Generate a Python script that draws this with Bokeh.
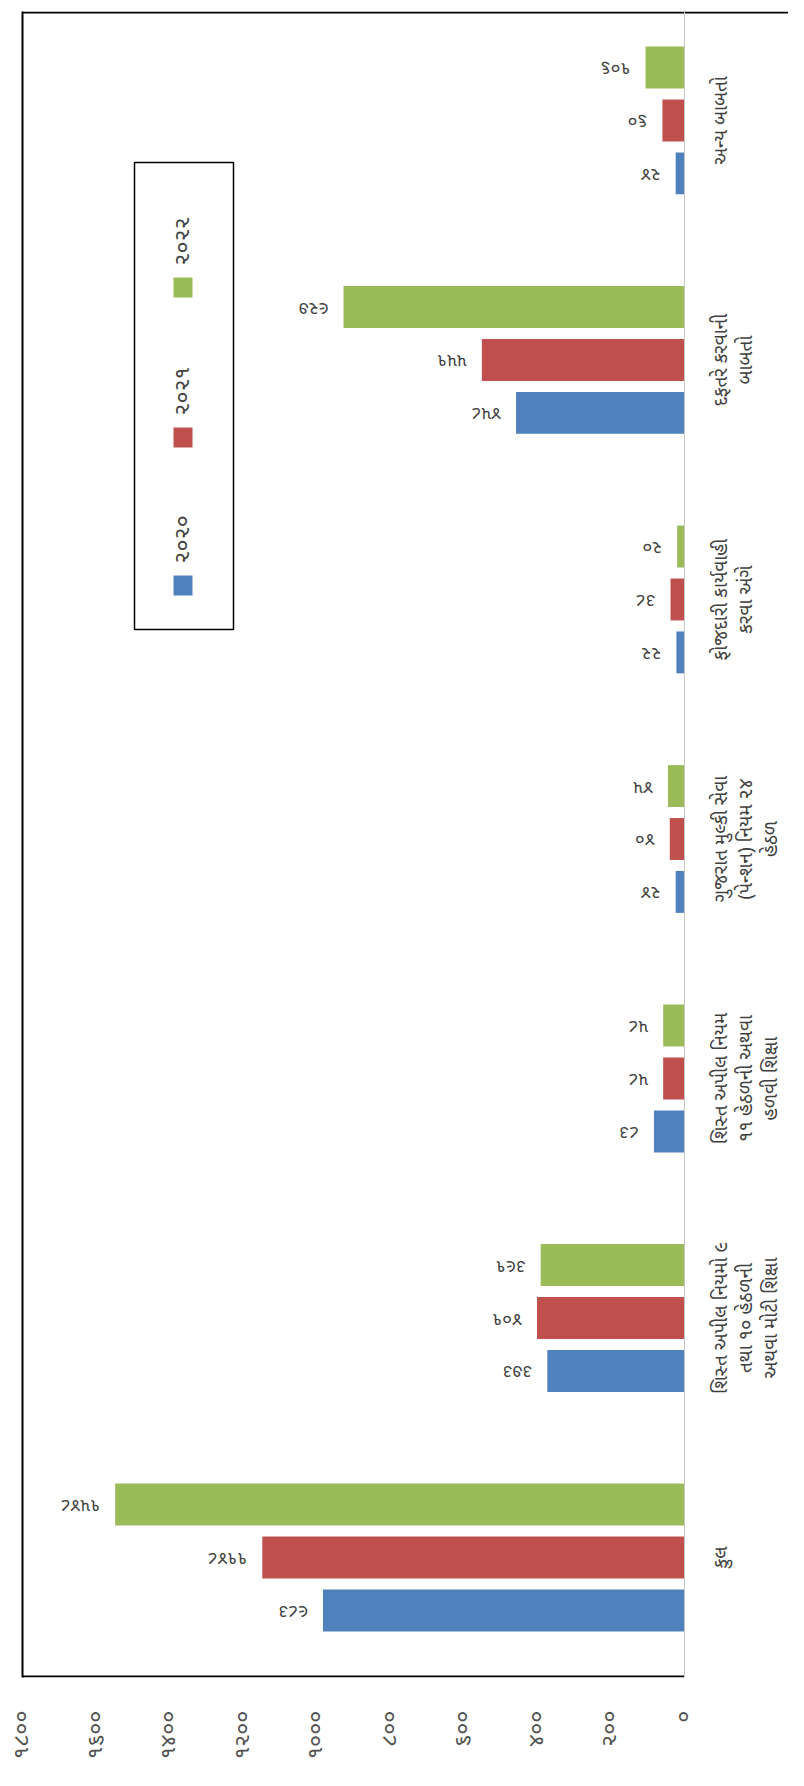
import math
from bokeh.plotting import figure
from bokeh.models import Range1d, FixedTicker, LinearAxis, ColumnDataSource, Span
from bokeh.transform import dodge
from bokeh.embed import file_html
from bokeh.resources import INLINE
from bokeh.core.properties import value

# ---------------- data ----------------
categories = [
    "કુલ",
    "શિસ્ત અપીલ નિયમો ૯\nતથા ૧૦ હેઠળની\nઅથવા મોટી શિક્ષા",
    "શિસ્ત અપીલ નિયમ\n૧૧ હેઠળની અથવા\nહળવી શિક્ષા",
    "ગુજરાત મુલ્કી સેવા\n(પેન્શન) નિયમ ૨૪\nહેઠળ",
    "ફોજદારી કાર્યવાહી\nકરવા અંગે",
    "દફતરે કરવાની\nબાબતો",
    "અન્ય બાબતો",
]
years = ["૨૦૨૦", "૨૦૨૧", "૨૦૨૨"]
v2020 = [983, 373, 83, 24, 22, 458, 24]
v2021 = [1148, 401, 58, 40, 38, 551, 60]
v2022 = [1548, 391, 58, 45, 20, 927, 106]
value_ticks = [0, 200, 400, 600, 800, 1000, 1200, 1400, 1600, 1800]
value_tick_labels = ["૦", "૨૦૦", "૪૦૦", "૬૦૦", "૮૦૦", "૧૦૦૦", "૧૨૦૦", "૧૪૦૦", "૧૬૦૦", "૧૮૦૦"]

colors = ["#4f81bd", "#c0504d", "#9bbb59"]
FONT = "'Noto Sans Gujarati', 'Noto Sans', sans-serif"
GU = str.maketrans("0123456789", "૦૧૨૩૪૫૬૭૮૯")

# geometry (canvas px): value 1800 at FL, value 0 at X0, plot frame runs to W
W, H = 788, 1770
FL, X0, FT, FB = 22, 684, 11, 1677
Y_START, Y_END = -0.501, 6.455
X_MAX = 1800
X_END = -X_MAX * (W - X0) / (X0 - FL)   # frame extends right past the zero line

p = figure(width=W, height=H, output_backend="svg", toolbar_location=None,
           x_range=Range1d(X_MAX, X_END), y_range=Range1d(Y_START, Y_END),
           y_axis_location=None, min_border_left=FL, min_border_top=FT,
           min_border_right=0, min_border_bottom=H - FB)
p.grid.visible = False
p.outline_line_color = None
p.background_fill_color = "white"
p.border_fill_color = "white"

def dx(px):
    return X_MAX * (X0 - px) / (X0 - FL)

def dy(py):
    return Y_START + (FB - py) / (FB - FT) * (Y_END - Y_START)

idx = list(range(len(categories)))
src = ColumnDataSource(dict(y=idx, v2020=v2020, v2021=v2021, v2022=v2022,
                            t2020=[str(v).translate(GU) for v in v2020],
                            t2021=[str(v).translate(GU) for v in v2021],
                            t2022=[str(v).translate(GU) for v in v2022],
                            cat=categories, zero=[0] * len(categories)))

offsets = [-0.221, 0.0, 0.221]
for key, off, col in zip(["2020", "2021", "2022"], offsets, colors):
    yd = dodge("y", off, range=p.y_range)
    p.hbar(y=yd, right="v" + key, left=0, height=0.175, source=src,
           fill_color=col, line_color=None)
    p.text(x="v" + key, y=yd, text="t" + key, source=src, angle=math.pi,
           x_offset=-15, text_align="left", text_baseline="middle",
           text_font=value(FONT), text_font_size="18px", text_color="#404040")

# category axis line (grey, at value 0) and category labels
p.add_layout(Span(location=0, dimension="height", line_color="#c8c8c8", line_width=1))
p.text(x="zero", y="y", text="cat", source=src, angle=math.pi / 2,
       x_offset=25, text_align="center", text_baseline="top",
       text_font=value(FONT), text_font_size="19px", text_line_height=1.0,
       text_color="#404040")

# value axis (bottom): labels from the axis, line only under the plotted range
xa = p.xaxis[0]
xa.ticker = FixedTicker(ticks=value_ticks)
xa.major_label_overrides = {t: l for t, l in zip(value_ticks, value_tick_labels)}
xa.major_label_orientation = math.pi / 2
xa.major_tick_line_color = None
xa.minor_tick_line_color = None
xa.axis_line_color = None
xa.major_label_standoff = 27
xa.major_label_text_font = FONT
xa.major_label_text_font_size = "22px"
xa.major_label_text_color = "#505050"
p.quad(left=X_MAX, right=0, bottom=dy(FB), top=dy(FB - 2),
       fill_color="black", line_color=None)

# chart border lines: left via an empty axis, top as a thin band along the frame top
ax = LinearAxis(ticker=FixedTicker(ticks=[]), axis_line_color="black",
                axis_line_width=2, major_tick_line_color=None,
                minor_tick_line_color=None, major_label_standoff=0,
                major_tick_out=0, major_tick_in=0, minor_tick_out=0)
p.add_layout(ax, "left")
p.quad(left=X_MAX, right=X_END, top=Y_END, bottom=dy(FT + 2),
       fill_color="black", line_color=None)

# legend drawn in data space
p.quad(left=dx(134), right=dx(233), top=dy(162), bottom=dy(629),
       fill_color=None, line_color="black", line_width=1.5)
sq_tops = [575, 427, 277]
for yr, col, top in zip(years, colors, sq_tops):
    p.quad(left=dx(173), right=dx(192), top=dy(top), bottom=dy(top + 20),
           fill_color=col, line_color=None)
    p.text(x=[dx(182.5)], y=[dy(top - 12)], text=[yr], angle=math.pi / 2,
           text_align="left", text_baseline="middle", text_font=value(FONT),
           text_font_size="22px", text_color="#404040")

open("out.html", "w").write(file_html(p, INLINE))
